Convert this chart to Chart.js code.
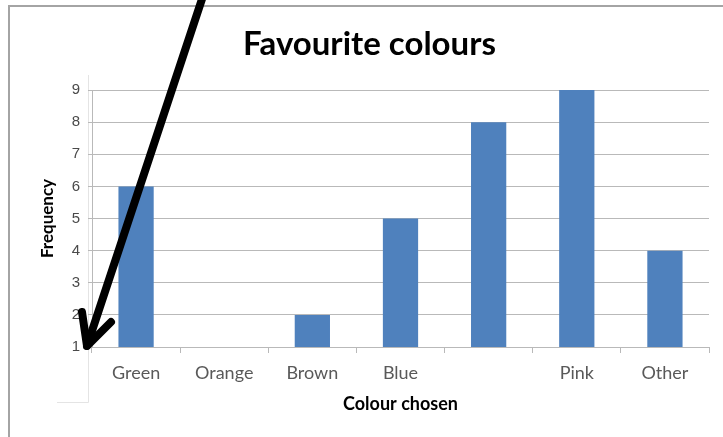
<!DOCTYPE html>
<html>
<head>
<meta charset="utf-8">
<script src="https://cdn.jsdelivr.net/npm/chart.js@4/dist/chart.umd.min.js"></script>
<style>
  html, body { margin: 0; padding: 0; background: #fff; }
  #wrap { position: relative; width: 723px; height: 437px; }
</style>
</head>
<body>
<div id="wrap"><canvas id="c" width="723" height="437"></canvas></div>
<script>
const categories = ["Green", "Orange", "Brown", "Blue", "", "Pink", "Other"];
const frequencies = [6, 1, 2, 5, 8, 9, 4];
const yTicks = [1, 2, 3, 4, 5, 6, 7, 8, 9];
const chartTitle = "Favourite colours";
const xTitle = "Colour chosen";
const yTitle = "Frequency";

const GRID = "#b9b9b9";
const TICK_TXT = "#4a4a4a";

const decor = {
  id: "decor",
  beforeDraw(chart) {
    const ctx = chart.ctx;
    ctx.save();
    ctx.fillStyle = "#fff";
    ctx.fillRect(0, 0, chart.width, chart.height);
    // outer frame (left + top)
    ctx.strokeStyle = "#a4a4a4";
    ctx.lineWidth = 2;
    ctx.beginPath();
    ctx.moveTo(9, 440);
    ctx.lineTo(9, 6);
    ctx.lineTo(740, 6);
    ctx.stroke();
    // faint selection artifact
    const a = chart.chartArea;
    ctx.strokeStyle = "#e4e4e4";
    ctx.lineWidth = 1;
    ctx.beginPath();
    ctx.moveTo(a.left - 3.5, a.top - 15);
    ctx.lineTo(a.left - 3.5, a.bottom + 55.5);
    ctx.lineTo(a.left - 35, a.bottom + 55.5);
    ctx.stroke();
    ctx.restore();
  },
  afterDraw(chart) {
    const ctx = chart.ctx;
    const y = chart.scales.y, x = chart.scales.x;
    const tipX = x.left - 5, tipY = y.getPixelForValue(1) - 1;
    ctx.save();
    ctx.strokeStyle = "#000";
    ctx.lineWidth = 8;
    ctx.lineCap = "round";
    ctx.lineJoin = "round";
    ctx.beginPath();
    ctx.moveTo(tipX + 116, -4);
    ctx.lineTo(tipX, tipY);
    ctx.stroke();
    ctx.beginPath();
    ctx.moveTo(tipX - 5, tipY - 34);
    ctx.lineTo(tipX, tipY);
    ctx.lineTo(tipX + 24, tipY - 24);
    ctx.stroke();
    ctx.restore();
  }
};

new Chart(document.getElementById("c"), {
  type: "bar",
  data: {
    labels: categories,
    datasets: [{
      data: frequencies,
      backgroundColor: "#4f81bd",
      borderWidth: 0,
      categoryPercentage: 1.0,
      barPercentage: 0.4
    }]
  },
  plugins: [decor],
  options: {
    responsive: false,
    animation: false,
    devicePixelRatio: 1,
    layout: { padding: { left: 30, right: 14, top: 18, bottom: 20 } },
    plugins: {
      legend: { display: false },
      tooltip: { enabled: false },
      title: {
        display: true,
        text: chartTitle,
        color: "#000",
        font: { family: "Lato", size: 33, weight: "bold" },
        padding: { top: 7, bottom: 25.4 }
      }
    },
    scales: {
      x: {
        afterFit(s) { s.height = 70; },
        grid: { display: true, drawOnChartArea: false, drawTicks: true, tickLength: 6, color: GRID, offset: true },
        border: { display: true, color: GRID, width: 1 },
        ticks: { color: "#595959", font: { family: "Lato", size: 18 }, padding: 9, maxRotation: 0, autoSkip: false },
        title: { display: true, text: xTitle, color: "#000", font: { family: "Lato", size: 18, weight: "bold" }, padding: { top: 2, bottom: 2 } }
      },
      y: {
        min: 1,
        max: 9,
        afterFit(s) { s.width = 62; },
        afterBuildTicks(s) { s.ticks = yTicks.map(v => ({ value: v })); },
        grid: { color: GRID, tickLength: 4, drawTicks: true },
        border: { display: true, color: GRID, width: 1 },
        ticks: { color: TICK_TXT, font: { family: "Liberation Sans", size: 15 }, padding: 8 },
        title: { display: true, text: yTitle, color: "#000", font: { family: "Lato", size: 17, weight: "bold" }, padding: { top: 7, bottom: 0 } }
      }
    }
  }
});
</script>
</body>
</html>
